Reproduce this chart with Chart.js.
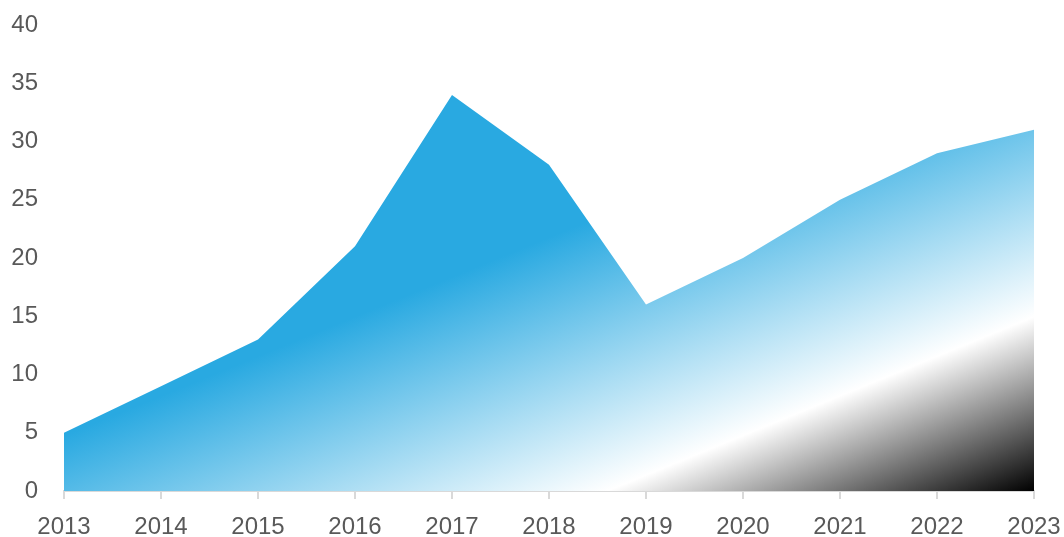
<!DOCTYPE html>
<html>
<head>
<meta charset="utf-8">
<script src="https://cdn.jsdelivr.net/npm/chart.js@4"></script>
<style>
  html, body { margin: 0; padding: 0; background: #fff; }
  #wrap { width: 1064px; height: 537px; }
</style>
</head>
<body>
<div id="wrap"><canvas id="areaChart" width="1064" height="537"></canvas></div>
<script>
const years = ["2013", "2014", "2015", "2016", "2017", "2018", "2019", "2020", "2021", "2022", "2023"];
const values = [5, 9, 13, 21, 34, 28, 16, 20, 25, 29, 31];
const yMin = 0;
const yMax = 40;
const yStep = 5;

// diagonal gradient over the shape's bounding box, like the office "scale with shape" fill
const areaFill = (context) => {
    const chart = context.chart;
    if (!chart.chartArea) return null;
    const xs = chart.scales.x, ys = chart.scales.y;
    const x0 = xs.getPixelForValue(0);
    const x1 = xs.getPixelForValue(values.length - 1);
    const y0 = ys.getPixelForValue(Math.max(...values));
    const y1 = ys.getPixelForValue(0);
    const w = x1 - x0, h = y1 - y0;
    const k = 2 * w * h / (w * w + h * h);
    const g = chart.ctx.createLinearGradient(x0, y0, x0 + h * k, y0 + w * k);
    g.addColorStop(0, '#29a9e1');
    g.addColorStop(0.43, '#29a9e1');
    g.addColorStop(0.78, '#ffffff');
    g.addColorStop(1, '#000000');
    return g;
};

const ctx = document.getElementById('areaChart').getContext('2d');
new Chart(ctx, {
    type: 'line',
    data: {
        labels: years,
        datasets: [{
            data: values,
            fill: 'origin',
            backgroundColor: areaFill,
            borderWidth: 0,
            borderColor: 'rgba(0,0,0,0)',
            pointRadius: 0,
            tension: 0
        }]
    },
    options: {
        responsive: false,
        animation: false,
        layout: { padding: { top: 25, right: 30, left: 0, bottom: 0 } },
        plugins: {
            legend: { display: false },
            tooltip: { enabled: false }
        },
        scales: {
            x: {
                offset: false,
                grid: {
                    drawOnChartArea: false,
                    drawTicks: true,
                    tickLength: 8,
                    color: '#d9d9d9',
                    lineWidth: 2
                },
                border: { display: true, color: '#d9d9d9', width: 2 },
                ticks: {
                    color: '#595959',
                    font: { family: 'Liberation Sans', size: 24 },
                    padding: 14,
                    maxRotation: 0,
                    autoSkip: false
                },
                afterFit: (s) => {
                    s.height = 46;
                    s.paddingLeft = 0;
                    s.paddingRight = 0;
                }
            },
            y: {
                min: yMin,
                max: yMax,
                grid: { display: false, drawTicks: false },
                border: { display: false },
                ticks: {
                    stepSize: yStep,
                    color: '#595959',
                    font: { family: 'Liberation Sans', size: 24 },
                    padding: 26
                },
                afterFit: (s) => {
                    s.width = 64;
                    s.paddingTop = 0;
                    s.paddingBottom = 0;
                }
            }
        }
    }
});
</script>
</body>
</html>
